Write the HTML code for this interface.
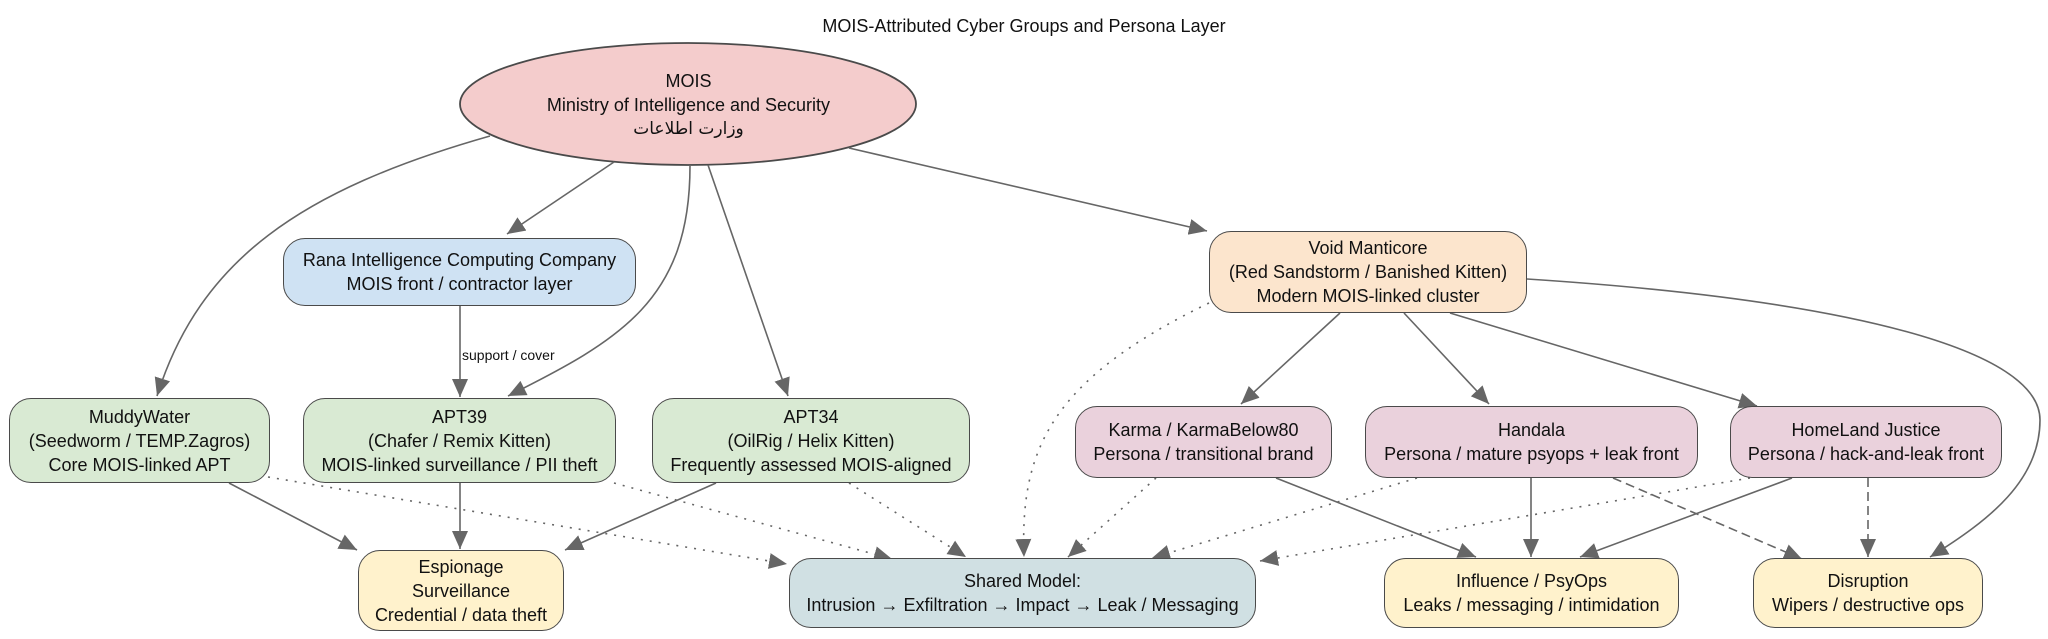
<!DOCTYPE html>
<html><head><meta charset="utf-8"><style>
body{margin:0;width:2048px;height:639px;background:#fff;position:relative;overflow:hidden;font-family:"Liberation Sans","DejaVu Sans",sans-serif;color:#111}
.n{position:absolute;box-sizing:border-box;border:1.8px solid #4a4a4a;border-radius:22px;display:flex;flex-direction:column;align-items:center;justify-content:center;text-align:center;font-size:18px;line-height:24px;white-space:nowrap}
.g{background:#d9ead3}.p{background:#ead1dc}.y{background:#fff2cc}
svg{position:absolute;left:0;top:0}
</style></head><body>
<svg width="2048" height="639">
<defs><marker id="a" markerUnits="userSpaceOnUse" markerWidth="19" markerHeight="16" refX="18" refY="8" orient="auto"><path d="M0,0 L18,8 L0,16 z" fill="#666"/></marker></defs>
<ellipse cx="688" cy="104" rx="228" ry="61" fill="#f4cccc" stroke="#4a4a4a" stroke-width="1.8"/>
<g fill="none" stroke="#666" stroke-width="1.6" marker-end="url(#a)">
<path d="M490,136 C300,190 200,260 157,396"/>
<path d="M614,162 L507,234"/>
<path d="M690,166 C690,300 620,340 508,396"/>
<path d="M708,165 L788,396"/>
<path d="M849,148 L1207,231"/>
<path d="M460,306 L460,397"/>
<path d="M229,483 L357,550"/>
<path d="M460,483 L460,549"/>
<path d="M716,483 L565,550"/>
<path d="M1340,313 L1241,404"/>
<path d="M1404,313 L1489,404"/>
<path d="M1450,313 L1757,406"/>
<path d="M1527,279 C1850,300 2040,350 2040,420 C2040,480 1990,520 1930,557"/>
<path d="M1276,478 L1476,557"/>
<path d="M1531,478 L1531,557"/>
<path d="M1792,478 L1580,557"/>
</g>
<g fill="none" stroke="#666" stroke-width="1.6" stroke-dasharray="2,7" marker-end="url(#a)">
<path d="M268,477 L787,564"/>
<path d="M614,483 L892,559"/>
<path d="M849,483 L966,557"/>
<path d="M1209,303 C1050,380 1020,450 1024,557"/>
<path d="M1156,478 L1068,557"/>
<path d="M1417,478 L1152,558"/>
<path d="M1750,478 L1260,561"/>
</g>
<g fill="none" stroke="#666" stroke-width="1.6" stroke-dasharray="9,5" marker-end="url(#a)">
<path d="M1613,478 L1802,559"/>
<path d="M1868,478 L1868,557"/>
</g>
<text x="462" y="360" font-size="14" font-family="Liberation Sans,sans-serif" fill="#111">support / cover</text>
<text x="1024" y="32" font-size="18" text-anchor="middle" font-family="Liberation Sans,sans-serif" fill="#111">MOIS-Attributed Cyber Groups and Persona Layer</text>
</svg>
<div class="n" style="left:460px;top:50px;width:457px;height:110px;border:none;background:transparent">MOIS<br>Ministry of Intelligence and Security<br><span style="font-family:'DejaVu Sans',sans-serif;font-size:17px">وزارت اطلاعات</span></div>
<div class="n" style="left:283px;top:238px;width:353px;height:68px;background:#cfe2f3">Rana Intelligence Computing Company<br>MOIS front / contractor layer</div>
<div class="n g" style="left:9px;top:398px;width:261px;height:85px">MuddyWater<br>(Seedworm / TEMP.Zagros)<br>Core MOIS-linked APT</div>
<div class="n g" style="left:303px;top:398px;width:313px;height:85px">APT39<br>(Chafer / Remix Kitten)<br>MOIS-linked surveillance / PII theft</div>
<div class="n g" style="left:652px;top:398px;width:318px;height:85px">APT34<br>(OilRig / Helix Kitten)<br>Frequently assessed MOIS-aligned</div>
<div class="n" style="left:1209px;top:231px;width:318px;height:82px;background:#fce5cd">Void Manticore<br>(Red Sandstorm / Banished Kitten)<br>Modern MOIS-linked cluster</div>
<div class="n p" style="left:1075px;top:406px;width:257px;height:72px">Karma / KarmaBelow80<br>Persona / transitional brand</div>
<div class="n p" style="left:1365px;top:406px;width:333px;height:72px">Handala<br>Persona / mature psyops + leak front</div>
<div class="n p" style="left:1730px;top:406px;width:272px;height:72px">HomeLand Justice<br>Persona / hack-and-leak front</div>
<div class="n y" style="left:358px;top:550px;width:206px;height:81px">Espionage<br>Surveillance<br>Credential / data theft</div>
<div class="n" style="left:789px;top:558px;width:467px;height:70px;background:#d0e0e3">Shared Model:<br>Intrusion → Exfiltration → Impact → Leak / Messaging</div>
<div class="n y" style="left:1384px;top:558px;width:295px;height:70px">Influence / PsyOps<br>Leaks / messaging / intimidation</div>
<div class="n y" style="left:1753px;top:558px;width:230px;height:70px">Disruption<br>Wipers / destructive ops</div>
</body></html>
